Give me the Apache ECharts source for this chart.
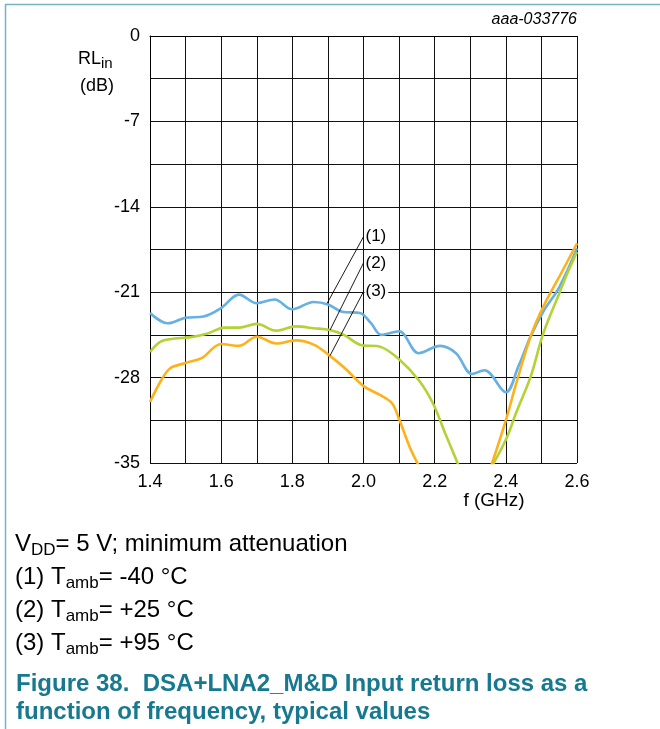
<!DOCTYPE html>
<html>
<head>
<meta charset="utf-8">
<script src="https://cdn.jsdelivr.net/npm/echarts@6/dist/echarts.min.js"></script>
<style>html,body{margin:0;padding:0;background:#fff;}#c{width:660px;height:729px;}</style>
</head>
<body>
<div id="c"></div>
<script>
// ---- data ----
const curve1F = [1.40,1.45,1.50,1.55,1.60,1.65,1.70,1.75,1.80,1.86,1.90,1.94,1.99,2.02,2.05,2.10,2.155,2.215,2.26,2.305,2.34,2.40,2.435,2.47,2.505,2.55,2.60];
const curve1Db = [-22.7,-23.55,-23.1,-23.0,-22.3,-21.2,-21.9,-21.6,-22.4,-21.8,-22.0,-22.6,-22.7,-23.5,-24.5,-24.2,-26.0,-25.4,-26.0,-27.7,-27.4,-29.2,-27.1,-24.6,-22.6,-20.6,-17.4];

const curve2F = [1.40,1.43,1.47,1.51,1.56,1.61,1.65,1.70,1.755,1.81,1.86,1.905,1.945,1.99,2.05,2.10,2.155,2.195,2.23,2.27,2.31,2.36,2.40,2.43,2.47,2.505,2.55,2.575,2.60];
const curve2Db = [-25.9,-25.05,-24.8,-24.7,-24.4,-23.9,-23.9,-23.6,-24.15,-23.8,-23.95,-24.1,-24.5,-25.3,-25.5,-26.5,-28.2,-30.1,-32.6,-35.4,null,-35.3,-33.1,-30.8,-27.9,-24.4,-21.1,-19.3,-17.7];

const curve3F = [1.40,1.43,1.456,1.50,1.545,1.60,1.65,1.70,1.755,1.81,1.86,1.905,1.95,2.00,2.045,2.08,2.10,2.13,2.157,2.25,2.358,2.40,2.43,2.47,2.505,2.56,2.60];
const curve3Db = [-30.0,-28.3,-27.25,-26.8,-26.4,-25.25,-25.4,-24.65,-25.2,-24.95,-25.3,-26.2,-27.3,-28.7,-29.4,-30.1,-31.4,-33.7,-35.3,null,-35.3,-31.5,-28.4,-24.6,-22.2,-19.2,-17.0];

const leaderF = [[1.898, 2.0], [1.906, 2.0], [1.906, 2.0]];
const leaderDb = [[-21.9, -16.45], [-24.1, -18.6], [-26.2, -20.95]];
const leaderText = ['(1)', '(2)', '(3)'];

const xTicks = [1.4, 1.6, 1.8, 2.0, 2.2, 2.4, 2.6];
const yTicks = [0, -7, -14, -21, -28, -35];

const colors = ['#66b0e2', '#b2d235', '#fdb21b'];

// ---- helpers ----
function pairs(xs, ys) { return xs.map((x, i) => [x, ys[i] === null ? '-' : ys[i]]); }
const FONT = '"Liberation Sans", Arial, sans-serif';
const mctx = document.createElement('canvas').getContext('2d');
function tw(t, size, bold) { mctx.font = (bold ? 'bold ' : '') + size + 'px ' + FONT; return mctx.measureText(t).width; }
// parts: [text, isSub]
function richLine(x, y, parts, size, subSize, color, bold) {
  const els = [];
  let cx = x;
  parts.forEach(p => {
    const sub = p[1];
    const fs = sub ? subSize : size;
    els.push({
      type: 'text', x: cx, y: sub ? y + size * 0.26 : y, silent: true,
      style: { text: p[0], fill: color, fontSize: fs, fontFamily: FONT, fontWeight: bold ? 'bold' : 'normal',
               textAlign: 'left', align: 'left', textVerticalAlign: 'middle', verticalAlign: 'middle' }
    });
    cx += tw(p[0], fs, bold);
  });
  return els;
}

const chart = echarts.init(document.getElementById('c'), null, { renderer: 'canvas' });

const series = [];
[[curve1F, curve1Db], [curve2F, curve2Db], [curve3F, curve3Db]].forEach((c, i) => {
  series.push({
    type: 'line', data: pairs(c[0], c[1]), smooth: 0.35, showSymbol: false, symbol: 'none',
    lineStyle: { color: colors[i], width: 2.6 }, clip: true, z: 3 + i, animation: false
  });
});
leaderF.forEach((fx, i) => {
  series.push({
    type: 'line', data: pairs(fx, leaderDb[i]), showSymbol: false, symbol: 'none', smooth: false,
    lineStyle: { color: '#000', width: 0.9 }, z: 8, animation: false,
    endLabel: { show: true, formatter: leaderText[i], distance: 1, color: '#000', fontSize: 17,
      fontFamily: FONT, backgroundColor: '#fff', padding: [1, 2, 1, 1] }
  });
});

let graphics = [];
// frame lines
graphics.push({ type: 'line', silent: true, shape: { x1: 5, y1: 4.5, x2: 660, y2: 4.5 }, style: { stroke: '#74b3c6', lineWidth: 1.5 } });
graphics.push({ type: 'line', silent: true, shape: { x1: 5.5, y1: 4, x2: 5.5, y2: 729 }, style: { stroke: '#74b3c6', lineWidth: 1.5 } });
// figure id
graphics.push({ type: 'text', x: 577, y: 20, silent: true,
  style: { text: 'aaa-033776', fill: '#000', fontSize: 16, fontStyle: 'italic', fontFamily: FONT, textAlign: 'right', align: 'right', textVerticalAlign: 'middle', verticalAlign: 'middle' } });
// y axis name
graphics = graphics.concat(richLine(78, 59, [['RL', false], ['in', true]], 18, 15, '#000', false));
graphics.push({ type: 'text', x: 97, y: 86, silent: true,
  style: { text: '(dB)', fill: '#000', fontSize: 18, fontFamily: FONT, textAlign: 'center', align: 'center', textVerticalAlign: 'middle', verticalAlign: 'middle' } });
// x axis name
graphics.push({ type: 'text', x: 494, y: 501, silent: true,
  style: { text: 'f (GHz)', fill: '#000', fontSize: 19, fontFamily: FONT, textAlign: 'center', align: 'center', textVerticalAlign: 'middle', verticalAlign: 'middle' } });
// notes
graphics = graphics.concat(richLine(15, 544, [['V', false], ['DD', true], ['= 5 V; minimum attenuation', false]], 24, 17, '#000', false));
graphics = graphics.concat(richLine(15, 577, [['(1) T', false], ['amb', true], ['= -40 °C', false]], 24, 17, '#000', false));
graphics = graphics.concat(richLine(15, 610, [['(2) T', false], ['amb', true], ['= +25 °C', false]], 24, 17, '#000', false));
graphics = graphics.concat(richLine(15, 643, [['(3) T', false], ['amb', true], ['= +95 °C', false]], 24, 17, '#000', false));
graphics = graphics.concat(richLine(16, 684, [['Figure 38.  DSA+LNA2_M&D Input return loss as a', false]], 24, 24, '#17798f', true));
graphics = graphics.concat(richLine(16, 712, [['function of frequency, typical values', false]], 24, 24, '#17798f', true));

chart.setOption({
  animation: false,
  backgroundColor: '#fff',
  grid: { left: 150, top: 36, width: 427, height: 427, containLabel: false },
  xAxis: {
    type: 'value', min: 1.4, max: 2.6, interval: 0.1,
    axisLine: { show: true, lineStyle: { color: '#000', width: 1 } },
    axisTick: { show: false },
    axisLabel: { color: '#000', fontSize: 18, fontFamily: FONT, margin: 10,
      formatter: v => { const r = Math.round(v * 10) / 10; return xTicks.some(t => Math.abs(t - r) < 1e-6) ? r.toFixed(1) : ''; } },
    splitLine: { show: true, lineStyle: { color: '#111', width: 1 } }
  },
  yAxis: {
    type: 'value', min: -35, max: 0, interval: 3.5,
    axisLine: { show: true, lineStyle: { color: '#000', width: 1 } },
    axisTick: { show: false },
    axisLabel: { color: '#000', fontSize: 18, fontFamily: FONT, margin: 10,
      formatter: v => { const r = Math.round(v * 10) / 10; return yTicks.some(t => Math.abs(t - r) < 1e-6) ? String(Math.round(r)) : ''; } },
    splitLine: { show: true, lineStyle: { color: '#111', width: 1 } }
  },
  series: series,
  graphic: graphics
});
</script>
</body>
</html>
